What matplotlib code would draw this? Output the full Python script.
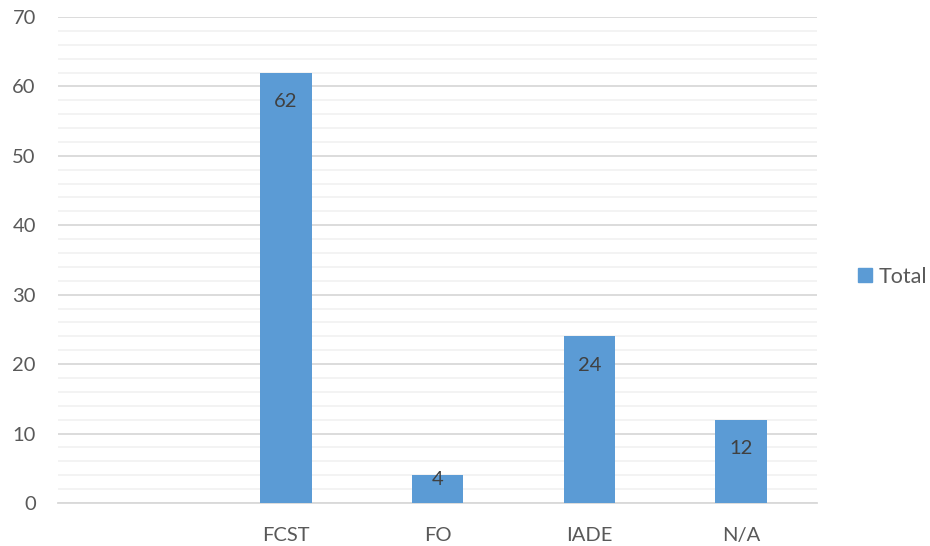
import numpy as np
import matplotlib.pyplot as plt
from matplotlib.patches import Patch

categories = ["", "FCST", "FO", "IADE", "N/A"]
totals = [np.nan, 62, 4, 24, 12]
y_major = [0, 10, 20, 30, 40, 50, 60, 70]

plt.rcParams['font.family'] = ['Lato', 'DejaVu Sans']

BAR = "#5B9BD5"
TXT = "#595959"

fig = plt.figure(figsize=(9.3, 5.46), dpi=100)
ax = fig.add_axes([0.0624, 0.0788, 0.8161, 0.8901])

x = np.arange(len(categories))
bars = ax.bar(x, totals, width=0.34, color=BAR, zorder=3)

ax.set_xlim(-0.5, len(categories) - 0.5)
ax.set_ylim(0, 70)
ax.set_yticks(y_major)
ax.set_yticks(np.arange(0, 71, 2), minor=True)
ax.set_xticks(x)
ax.set_xticklabels(categories)

ax.grid(axis='y', which='major', color="#D9D9D9", linewidth=1.3, zorder=0)
ax.grid(axis='y', which='minor', color="#F2F2F2", linewidth=1.3, zorder=0)
ax.tick_params(axis='both', which='both', length=0, labelsize=14.5, colors=TXT)
ax.tick_params(axis='y', pad=16)
ax.tick_params(axis='x', pad=17)
for s in ['top', 'right', 'left']:
    ax.spines[s].set_visible(False)
ax.spines['bottom'].set_color("#D9D9D9")
ax.spines['bottom'].set_linewidth(1.3)

# value labels just inside the top of each bar
for xi, v in zip(x, totals):
    if np.isnan(v):
        continue
    off = -21 if v > 8 else -3
    ax.annotate(f"{int(v)}", (xi, v), xytext=(0, off), textcoords='offset points',
                ha='center', va='center', fontsize=14.5, color="#404040", zorder=4)

leg = fig.legend(handles=[Patch(color=BAR, label="Total")], loc='center left',
                 bbox_to_anchor=(0.9225, 0.493), frameon=False, fontsize=15.5,
                 handlelength=0.65, handleheight=0.65, handletextpad=0.3,
                 labelcolor=TXT, borderaxespad=0, borderpad=0)

fig.savefig("out.png", dpi=100, facecolor="white")
